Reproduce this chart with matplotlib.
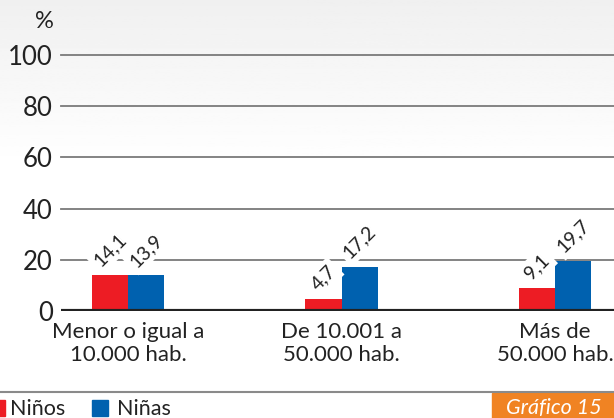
import numpy as np
import matplotlib.pyplot as plt
from matplotlib.patches import Rectangle

categorias = ["Menor o igual a\n10.000 hab.", "De 10.001 a\n50.000 hab.", "Más de\n50.000 hab."]
ninos = [14.1, 4.7, 9.1]
ninas = [13.9, 17.2, 19.7]
etiquetas_y = [0, 20, 40, 60, 80, 100]

cor_ninos = "#ED1C24"
cor_ninas = "#0061AF"
cor_laranja = "#F08323"

plt.rcParams["font.family"] = ["Lato", "DejaVu Sans"]

fig = plt.figure(figsize=(6.14, 4.18), dpi=100)

# fundo em degradê
fundo = fig.add_axes([0, 0, 1, 1], zorder=-10)
grad = np.linspace(0.94, 1.0, 100).reshape(-1, 1)
grad = np.vstack([grad, np.ones((150, 1))])
fundo.imshow(grad, cmap="gray", vmin=0, vmax=1, aspect="auto", extent=[0, 1, 0, 1])
fundo.axis("off")

ax = fig.add_axes([61 / 614, 1 - 311 / 418, 1 - 61 / 614, (311 - 55) / 418])
ax.patch.set_alpha(0)

x = np.arange(len(categorias))
largura = 0.169
b1 = ax.bar(x - largura / 2, ninos, largura, color=cor_ninos, zorder=3)
b2 = ax.bar(x + largura / 2, ninas, largura, color=cor_ninas, zorder=3)

for barras, valores in [(b1, ninos), (b2, ninas)]:
    for b, v in zip(barras, valores):
        ax.annotate(f"{v:.1f}".replace(".", ","),
                    xy=(b.get_x() + b.get_width() / 2, v),
                    xytext=(0, 4), textcoords="offset points",
                    ha="center", va="bottom", rotation=45, fontsize=14,
                    color="#222222", zorder=4,
                    bbox=dict(boxstyle="square,pad=0.2", fc="white", ec="none"))

ax.set_xlim(-0.314, 2.276)
ax.set_ylim(0, 100)
ax.set_yticks(etiquetas_y)
ax.set_yticklabels(etiquetas_y, fontsize=18.5, color="#222222")
ax.set_xticks(x)
ax.set_xticklabels(categorias, fontsize=16, color="#222222", linespacing=1.15)
ax.tick_params(length=0, pad=8)
ax.tick_params(axis="y", pad=6)
for v in etiquetas_y[1:]:
    ax.axhline(v, color="#7a7a7a", lw=1.3, zorder=1, clip_on=False)
ax.axhline(0, color="#222222", lw=3, zorder=5)
for s in ax.spines.values():
    s.set_visible(False)

fig.text(44 / 614, 1 - 22 / 418, "%", fontsize=17, ha="center", va="center", color="#222222")

# linha separadora e legenda
fig.add_artist(plt.Line2D([0, 1], [1 - 392 / 418, 1 - 392 / 418], color="#8a8a8a", lw=1.5))
fig.add_artist(Rectangle((-6 / 614, 1 - 416 / 418), 11 / 614, 16 / 418, color=cor_ninos,
                         transform=fig.transFigure))
fig.text(10 / 614, 1 - 409 / 418, "Niños", fontsize=15.5, va="center", color="#222222")
fig.add_artist(Rectangle((92 / 614, 1 - 416 / 418), 16 / 614, 16 / 418, color=cor_ninas,
                         transform=fig.transFigure))
fig.text(117 / 614, 1 - 409 / 418, "Niñas", fontsize=15.5, va="center", color="#222222")

fig.add_artist(Rectangle((492 / 614, 0), 122 / 614, 25 / 418, color=cor_laranja,
                         transform=fig.transFigure))
fig.text(554 / 614, 1 - 408 / 418, "Gráfico 15", fontsize=15.5, style="italic",
         ha="center", va="center", color="white")

fig.savefig("out.png", dpi=100)
